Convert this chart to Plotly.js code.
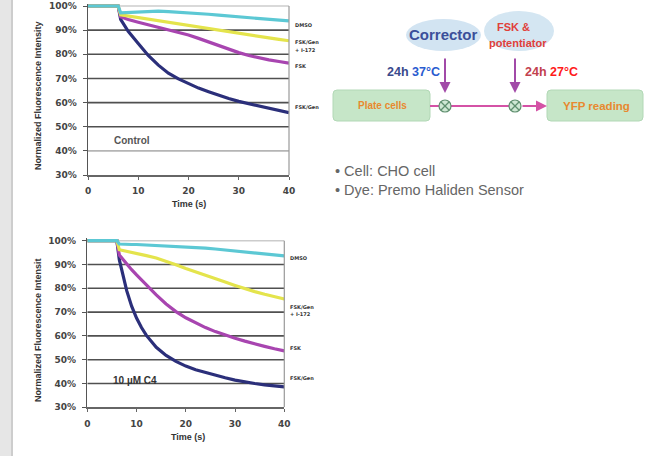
<!DOCTYPE html>
<html>
<head>
<meta charset="utf-8">
<script src="https://cdn.plot.ly/plotly-3.0.1.min.js"></script>
<style>html,body{margin:0;padding:0;background:#fff;}#chart{width:654px;height:456px;}</style>
</head>
<body>
<div id="chart"></div>
<script>
// ---- Data: Control panel ----
const timeControl = [0, 2, 4, 6, 6.5, 8, 10, 12, 14, 16, 18, 20, 22, 24, 26, 28, 30, 32, 34, 36, 38, 40];
const dmsoControl = [100, 100, 100, 100, 97.2, 97.4, 97.6, 97.8, 97.9, 97.7, 97.5, 97.2, 96.9, 96.6, 96.2, 95.9, 95.5, 95.2, 94.9, 94.5, 94.2, 93.8];
const fskGenI172Control = [100, 100, 100, 100, 96.3, 95.8, 95.2, 94.6, 93.8, 93.1, 92.5, 91.9, 91.2, 90.6, 90.0, 89.3, 88.6, 88.0, 87.4, 86.8, 86.2, 85.6];
const fskControl = [100, 100, 100, 100, 95.5, 94.4, 93.3, 92.3, 91.3, 90.2, 89.1, 88.0, 86.6, 85.1, 83.6, 82.1, 80.7, 79.5, 78.5, 77.7, 77.0, 76.3];
const fskGenControl = [100, 100, 100, 100, 94.5, 89.5, 84.5, 79.5, 75.5, 72.2, 69.8, 67.8, 66.0, 64.5, 63.0, 61.7, 60.5, 59.5, 58.5, 57.6, 56.6, 55.8];

// ---- Data: 10 µM C4 panel ----
const timeC4 = [0, 2, 4, 6, 6.5, 7, 8, 9, 10, 11, 12, 14, 16, 18, 20, 22, 24, 26, 28, 30, 32, 34, 36, 38, 40];
const dmsoC4 = [100, 100, 100, 100, 98.6, 98.5, 98.5, 98.4, 98.4, 98.3, 98.3, 98.2, 98.0, 97.8, 97.5, 97.2, 96.9, 96.5, 96.1, 95.7, 95.3, 94.9, 94.5, 94.1, 93.6];
const fskGenI172C4 = [100, 100, 100, 100, 96.2, 96.0, 95.6, 95.1, 94.6, 94.2, 93.7, 92.7, 91.4, 89.9, 88.3, 86.8, 85.5, 84.0, 82.6, 81.2, 79.8, 78.6, 77.5, 76.5, 75.5];
const fskC4 = [100, 100, 100, 100, 94.0, 92.7, 90.2, 87.8, 85.6, 83.4, 81.3, 77.2, 73.4, 70.2, 67.6, 65.4, 63.5, 61.8, 60.3, 59.0, 57.8, 56.6, 55.6, 54.6, 53.7];
const fskGenC4 = [100, 100, 100, 100, 92.0, 87.5, 79.0, 72.5, 67.5, 63.5, 60.2, 55.2, 51.8, 49.3, 47.3, 45.8, 44.6, 43.5, 42.4, 41.4, 40.6, 40.0, 39.4, 39.0, 38.6];

// ---- Ticks and labels ----
const xTickVals = [0, 10, 20, 30, 40];
const yTickVals = [30, 40, 50, 60, 70, 80, 90, 100];
const yTickText = ['30%', '40%', '50%', '60%', '70%', '80%', '90%', '100%'];
const seriesNames = ['FSK/Gen', 'FSK', 'FSK/Gen + I-172', 'DMSO'];

// ---- Styling ----
const W = 654, H = 456;
const px = x => x / W;
const py = y => 1 - y / H;
const colors = ['#2b2f7a', '#a845b0', '#e4e44c', '#5cc8d4'];

function tr(x, y, i, xa, ya) {
  return {x: x, y: y, xaxis: xa, yaxis: ya, type: 'scatter', mode: 'lines', name: seriesNames[i],
    line: {color: colors[i], width: 3.2}, hoverinfo: 'skip'};
}
const data = [
  tr(timeControl, fskGenControl, 0, 'x', 'y'),
  tr(timeControl, fskControl, 1, 'x', 'y'),
  tr(timeControl, fskGenI172Control, 2, 'x', 'y'),
  tr(timeControl, dmsoControl, 3, 'x', 'y'),
  tr(timeC4, fskGenC4, 0, 'x2', 'y2'),
  tr(timeC4, fskC4, 1, 'x2', 'y2'),
  tr(timeC4, fskGenI172C4, 2, 'x2', 'y2'),
  tr(timeC4, dmsoC4, 3, 'x2', 'y2')
];

const tickFont = {family: 'DejaVu Sans', size: 9, weight: 'bold', color: '#444'};
function xAx(domain, anchor) {
  return {domain: domain, anchor: anchor, range: [0, 40], tickvals: xTickVals, showgrid: false, zeroline: false,
    showline: true, linecolor: '#666', linewidth: 1.5, ticks: 'outside', ticklen: 3, tickcolor: '#666',
    tickfont: tickFont, ticklabelstandoff: 4, fixedrange: true};
}
function yAx(domain, anchor) {
  return {domain: domain, anchor: anchor, range: [30, 101], tickvals: yTickVals, ticktext: yTickText,
    showgrid: false, zeroline: false,
    showline: true, linecolor: '#555', linewidth: 1.5, ticks: 'outside', ticklen: 4, tickcolor: '#555',
    tickfont: tickFont, ticklabelstandoff: 4, fixedrange: true};
}

function roundRect(x0, y0, x1, y1, r) {
  const rx = r / W, ry = r / H;
  const X0 = px(x0), X1 = px(x1), Y0 = py(y0), Y1 = py(y1);
  return `M${X0 + rx},${Y0} L${X1 - rx},${Y0} Q${X1},${Y0} ${X1},${Y0 - ry} L${X1},${Y1 + ry} Q${X1},${Y1} ${X1 - rx},${Y1} L${X0 + rx},${Y1} Q${X0},${Y1} ${X0},${Y1 + ry} L${X0},${Y0 - ry} Q${X0},${Y0} ${X0 + rx},${Y0} Z`;
}
function pline(x0, y0, x1, y1, color, width) {
  return {type: 'line', xref: 'paper', yref: 'paper', x0: px(x0), y0: py(y0), x1: px(x1), y1: py(y1),
    line: {color: color, width: width}};
}
function circleX(cx, cy) {
  const r = 6;
  return [
    {type: 'circle', xref: 'paper', yref: 'paper', x0: px(cx - r), x1: px(cx + r), y0: py(cy + r), y1: py(cy - r),
      fillcolor: '#cfe8d4', line: {color: '#5f8f6f', width: 1.2}},
    pline(cx - 4, cy - 4, cx + 4, cy + 4, '#5f8f6f', 1.2),
    pline(cx - 4, cy + 4, cx + 4, cy - 4, '#5f8f6f', 1.2)
  ];
}
// gridlines as shapes below the traces (one per y tick)
function grid(xa, ya, lightVals) {
  return yTickVals.filter(v => v > 30).map(v => ({
    type: 'line', xref: xa, yref: ya, x0: xTickVals[0], x1: xTickVals[xTickVals.length - 1], y0: v, y1: v, layer: 'below',
    line: {color: v === 100 ? '#cccccc' : (lightVals.indexOf(v) >= 0 ? '#b5b5b5' : '#505050'), width: v === 100 ? 1.5 : 1.6}
  }));
}

const shapes = [
  // left grey strip
  {type: 'rect', xref: 'paper', yref: 'paper', x0: 0, x1: px(11), y0: 0, y1: 1, fillcolor: '#e6e6e6', line: {width: 0}, layer: 'below'},
  {type: 'rect', xref: 'paper', yref: 'paper', x0: px(11), x1: px(13), y0: 0, y1: 1, fillcolor: '#cdcdcd', line: {width: 0}, layer: 'below'},
  ...grid('x', 'y', [40]),
  ...grid('x2', 'y2', []),
  // right plot borders
  {type: 'line', xref: 'x domain', yref: 'y', x0: 1, x1: 1, y0: 30, y1: 100, line: {color: '#999', width: 1.2}},
  {type: 'line', xref: 'x2 domain', yref: 'y2', x0: 1, x1: 1, y0: 30, y1: 100, line: {color: '#999', width: 1.2}},
  // diagram ellipses
  {type: 'circle', xref: 'paper', yref: 'paper', x0: px(406), x1: px(481), y0: py(51), y1: py(19), fillcolor: '#d2e4f2', line: {width: 0}},
  {type: 'circle', xref: 'paper', yref: 'paper', x0: px(484), x1: px(554), y0: py(51), y1: py(11), fillcolor: '#d4e6f2', line: {width: 0}},
  // boxes
  {type: 'path', xref: 'paper', yref: 'paper', path: roundRect(333, 90, 430, 121, 4), fillcolor: '#c6e6c8', line: {color: '#b2d8b6', width: 1}},
  {type: 'path', xref: 'paper', yref: 'paper', path: roundRect(547, 90, 643, 121, 4), fillcolor: '#c6e6c8', line: {color: '#b2d8b6', width: 1}},
  // connectors
  pline(430, 106, 439, 106, '#d452a6', 2),
  pline(451, 106, 509, 106, '#d452a6', 2),
  ...circleX(445, 106),
  ...circleX(515, 106)
];

const smallLab = {family: 'DejaVu Sans', size: 5, weight: 'bold', color: '#333'};
function lab(text, x, y, font, xanchor) {
  return {text: text, xref: 'paper', yref: 'paper', x: px(x), y: py(y), showarrow: false,
    xanchor: xanchor || 'center', yanchor: 'middle', font: font};
}
function arrow(x, y, ax, ay, color) {
  return {text: '', xref: 'paper', yref: 'paper', x: px(x), y: py(y), ax: ax, ay: ay,
    showarrow: true, arrowhead: 2, arrowsize: 1.1, arrowwidth: 2, arrowcolor: color};
}
const titleFont = {family: 'Liberation Sans', size: 9, weight: 'bold', color: '#333'};
const annotations = [
  // axis titles
  Object.assign(lab('Normalized Fluorescence Intensity', 38, 96, titleFont), {textangle: -90}),
  Object.assign(lab('Normalized Fluorescence Intensit', 38, 330, titleFont), {textangle: -90}),
  lab('Time (s)', 189, 204, titleFont),
  lab('Time (s)', 188, 437, titleFont),
  // panel labels
  lab('Control', 132, 140, {family: 'Liberation Sans', size: 10, weight: 'bold', color: '#555'}),
  lab('10 µM C4', 135, 380, {family: 'Liberation Sans', size: 10, weight: 'bold', color: '#333'}),
  // series labels, control
  lab('DMSO', 293, 25, smallLab, 'left'),
  lab('FSK/Gen', 293, 42, smallLab, 'left'),
  lab('+ I-172', 293, 50, smallLab, 'left'),
  lab('FSK', 293, 66, smallLab, 'left'),
  lab('FSK/Gen', 293, 107, smallLab, 'left'),
  // series labels, C4
  lab('DMSO', 288, 258, smallLab, 'left'),
  lab('FSK/Gen', 288, 307, smallLab, 'left'),
  lab('+ I-172', 288, 314, smallLab, 'left'),
  lab('FSK', 288, 348, smallLab, 'left'),
  lab('FSK/Gen', 288, 378, smallLab, 'left'),
  // diagram
  lab('Corrector', 443, 35, {family: 'Liberation Sans', size: 15, weight: 'bold', color: '#3b4f9a'}),
  lab('FSK &', 513, 27, {family: 'Liberation Sans', size: 11, weight: 'bold', color: '#e0403a'}),
  lab('potentiator', 518, 43, {family: 'Liberation Sans', size: 11, weight: 'bold', color: '#e0403a'}),
  lab('<span style="color:#3a4a8c">24h</span> <span style="color:#2a5bd0">37°C</span>', 413, 72, {family: 'Liberation Sans', size: 12.5, weight: 'bold', color: '#3a4a8c'}),
  lab('<span style="color:#c2414e">24h</span> <span style="color:#ff1a1a">27°C</span>', 551, 72, {family: 'Liberation Sans', size: 12.5, weight: 'bold', color: '#c2414e'}),
  lab('Plate cells', 382, 106, {family: 'Liberation Sans', size: 10, weight: 'bold', color: '#e8892f'}),
  lab('YFP reading', 596, 106, {family: 'Liberation Sans', size: 11.5, weight: 'bold', color: '#e8892f'}),
  arrow(445, 93, 0, -36, '#a24aa8'),
  arrow(515, 93, 0, -36, '#a24aa8'),
  arrow(547, 106, -26, 0, '#d452a6'),
  // bullets
  lab('• Cell: CHO cell', 333, 171, {family: 'Liberation Sans', size: 14.5, color: '#666'}, 'left'),
  lab('• Dye: Premo Haliden Sensor', 333, 190, {family: 'Liberation Sans', size: 14.5, color: '#666'}, 'left')
];

const layout = {
  width: W, height: H, margin: {l: 0, r: 0, t: 0, b: 0},
  paper_bgcolor: '#ffffff', plot_bgcolor: 'rgba(0,0,0,0)', showlegend: false,
  xaxis: xAx([px(88), px(289)], 'y'),
  yaxis: yAx([py(175), py(3.6)], 'x'),
  xaxis2: xAx([px(87.3), px(284.3)], 'y2'),
  yaxis2: yAx([py(407.3), py(238.3)], 'x2'),
  shapes: shapes,
  annotations: annotations
};

Plotly.newPlot('chart', data, layout, {displayModeBar: false, staticPlot: true});
</script>
</body>
</html>
